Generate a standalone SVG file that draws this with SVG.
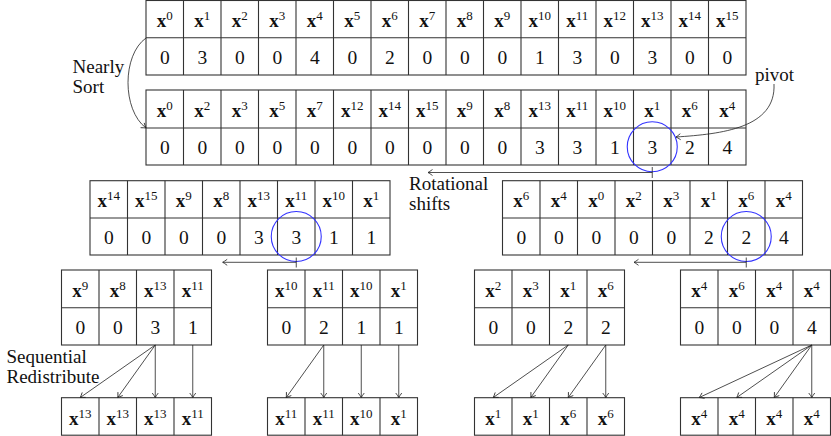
<svg xmlns="http://www.w3.org/2000/svg" width="831" height="436" viewBox="0 0 831 436">
<style>
.tb{fill:#fff;stroke:#333;stroke-width:1.1}
.gl{fill:none;stroke:#333;stroke-width:1.1}
.h{font-family:"Liberation Serif","DejaVu Serif",serif;font-size:19px;font-weight:bold;text-anchor:middle;fill:#111}
.h tspan{font-weight:normal;font-size:13px}
.v{font-family:"Liberation Serif","DejaVu Serif",serif;font-size:19.5px;text-anchor:middle;fill:#111}
.lbl{font-family:"Liberation Serif","DejaVu Serif",serif;font-size:19px;fill:#111}
.cn{fill:none;stroke:#222;stroke-width:0.8}
.ci{fill:none;stroke:#3333ff;stroke-width:1.1}
</style>
<defs>
<marker id="ar" viewBox="-6 -4 7 8" refX="0" refY="0" markerWidth="7" markerHeight="8" markerUnits="userSpaceOnUse" orient="auto">
<path d="M-4.5,-3 Q-1.5,-0.8 0,0 Q-1.5,0.8 -4.5,3" fill="none" stroke="#222" stroke-width="0.8"/>
</marker>
</defs>

<g id="table-original">
<rect class="tb" x="146" y="0.5" width="600" height="74.5"/>
<path class="gl" d="M146,37.7H746M183.5,0.5V75M221,0.5V75M258.5,0.5V75M296,0.5V75M333.5,0.5V75M371,0.5V75M408.5,0.5V75M446,0.5V75M483.5,0.5V75M521,0.5V75M558.5,0.5V75M596,0.5V75M633.5,0.5V75M671,0.5V75M708.5,0.5V75"/>
<text class="h" x="164.75" y="27">x<tspan dy="-7">0</tspan></text>
<text class="h" x="202.25" y="27">x<tspan dy="-7">1</tspan></text>
<text class="h" x="239.75" y="27">x<tspan dy="-7">2</tspan></text>
<text class="h" x="277.25" y="27">x<tspan dy="-7">3</tspan></text>
<text class="h" x="314.75" y="27">x<tspan dy="-7">4</tspan></text>
<text class="h" x="352.25" y="27">x<tspan dy="-7">5</tspan></text>
<text class="h" x="389.75" y="27">x<tspan dy="-7">6</tspan></text>
<text class="h" x="427.25" y="27">x<tspan dy="-7">7</tspan></text>
<text class="h" x="464.75" y="27">x<tspan dy="-7">8</tspan></text>
<text class="h" x="502.25" y="27">x<tspan dy="-7">9</tspan></text>
<text class="h" x="539.75" y="27">x<tspan dy="-7">10</tspan></text>
<text class="h" x="577.25" y="27">x<tspan dy="-7">11</tspan></text>
<text class="h" x="614.75" y="27">x<tspan dy="-7">12</tspan></text>
<text class="h" x="652.25" y="27">x<tspan dy="-7">13</tspan></text>
<text class="h" x="689.75" y="27">x<tspan dy="-7">14</tspan></text>
<text class="h" x="727.25" y="27">x<tspan dy="-7">15</tspan></text>
<text class="v" x="164.75" y="63.7">0</text>
<text class="v" x="202.25" y="63.7">3</text>
<text class="v" x="239.75" y="63.7">0</text>
<text class="v" x="277.25" y="63.7">0</text>
<text class="v" x="314.75" y="63.7">4</text>
<text class="v" x="352.25" y="63.7">0</text>
<text class="v" x="389.75" y="63.7">2</text>
<text class="v" x="427.25" y="63.7">0</text>
<text class="v" x="464.75" y="63.7">0</text>
<text class="v" x="502.25" y="63.7">0</text>
<text class="v" x="539.75" y="63.7">1</text>
<text class="v" x="577.25" y="63.7">3</text>
<text class="v" x="614.75" y="63.7">0</text>
<text class="v" x="652.25" y="63.7">3</text>
<text class="v" x="689.75" y="63.7">0</text>
<text class="v" x="727.25" y="63.7">0</text>
</g>

<g id="table-sorted">
<rect class="tb" x="146" y="90" width="600" height="75"/>
<path class="gl" d="M146,128H746M183.5,90V165M221,90V165M258.5,90V165M296,90V165M333.5,90V165M371,90V165M408.5,90V165M446,90V165M483.5,90V165M521,90V165M558.5,90V165M596,90V165M633.5,90V165M671,90V165M708.5,90V165"/>
<text class="h" x="164.75" y="116.8">x<tspan dy="-7">0</tspan></text>
<text class="h" x="202.25" y="116.8">x<tspan dy="-7">2</tspan></text>
<text class="h" x="239.75" y="116.8">x<tspan dy="-7">3</tspan></text>
<text class="h" x="277.25" y="116.8">x<tspan dy="-7">5</tspan></text>
<text class="h" x="314.75" y="116.8">x<tspan dy="-7">7</tspan></text>
<text class="h" x="352.25" y="116.8">x<tspan dy="-7">12</tspan></text>
<text class="h" x="389.75" y="116.8">x<tspan dy="-7">14</tspan></text>
<text class="h" x="427.25" y="116.8">x<tspan dy="-7">15</tspan></text>
<text class="h" x="464.75" y="116.8">x<tspan dy="-7">9</tspan></text>
<text class="h" x="502.25" y="116.8">x<tspan dy="-7">8</tspan></text>
<text class="h" x="539.75" y="116.8">x<tspan dy="-7">13</tspan></text>
<text class="h" x="577.25" y="116.8">x<tspan dy="-7">11</tspan></text>
<text class="h" x="614.75" y="116.8">x<tspan dy="-7">10</tspan></text>
<text class="h" x="652.25" y="116.8">x<tspan dy="-7">1</tspan></text>
<text class="h" x="689.75" y="116.8">x<tspan dy="-7">6</tspan></text>
<text class="h" x="727.25" y="116.8">x<tspan dy="-7">4</tspan></text>
<text class="v" x="164.75" y="154">0</text>
<text class="v" x="202.25" y="154">0</text>
<text class="v" x="239.75" y="154">0</text>
<text class="v" x="277.25" y="154">0</text>
<text class="v" x="314.75" y="154">0</text>
<text class="v" x="352.25" y="154">0</text>
<text class="v" x="389.75" y="154">0</text>
<text class="v" x="427.25" y="154">0</text>
<text class="v" x="464.75" y="154">0</text>
<text class="v" x="502.25" y="154">0</text>
<text class="v" x="539.75" y="154">3</text>
<text class="v" x="577.25" y="154">3</text>
<text class="v" x="614.75" y="154">1</text>
<text class="v" x="652.25" y="154">3</text>
<text class="v" x="689.75" y="154">2</text>
<text class="v" x="727.25" y="154">4</text>
<circle class="ci" cx="652.25" cy="146.7" r="25"/>
</g>

<g id="table-mid-left">
<rect class="tb" x="90" y="180.7" width="300" height="74.3"/>
<path class="gl" d="M90,218H390M127.5,180.7V255M165,180.7V255M202.5,180.7V255M240,180.7V255M277.5,180.7V255M315,180.7V255M352.5,180.7V255"/>
<text class="h" x="108.75" y="207.3">x<tspan dy="-7">14</tspan></text>
<text class="h" x="146.25" y="207.3">x<tspan dy="-7">15</tspan></text>
<text class="h" x="183.75" y="207.3">x<tspan dy="-7">9</tspan></text>
<text class="h" x="221.25" y="207.3">x<tspan dy="-7">8</tspan></text>
<text class="h" x="258.75" y="207.3">x<tspan dy="-7">13</tspan></text>
<text class="h" x="296.25" y="207.3">x<tspan dy="-7">11</tspan></text>
<text class="h" x="333.75" y="207.3">x<tspan dy="-7">10</tspan></text>
<text class="h" x="371.25" y="207.3">x<tspan dy="-7">1</tspan></text>
<text class="v" x="108.75" y="243.5">0</text>
<text class="v" x="146.25" y="243.5">0</text>
<text class="v" x="183.75" y="243.5">0</text>
<text class="v" x="221.25" y="243.5">0</text>
<text class="v" x="258.75" y="243.5">3</text>
<text class="v" x="296.25" y="243.5">3</text>
<text class="v" x="333.75" y="243.5">1</text>
<text class="v" x="371.25" y="243.5">1</text>
<circle class="ci" cx="296.25" cy="236.5" r="25"/>
</g>

<g id="table-mid-right">
<rect class="tb" x="502.5" y="180.7" width="300" height="74.3"/>
<path class="gl" d="M502.5,218H802.5M540,180.7V255M577.5,180.7V255M615,180.7V255M652.5,180.7V255M690,180.7V255M727.5,180.7V255M765,180.7V255"/>
<text class="h" x="521.25" y="207.3">x<tspan dy="-7">6</tspan></text>
<text class="h" x="558.75" y="207.3">x<tspan dy="-7">4</tspan></text>
<text class="h" x="596.25" y="207.3">x<tspan dy="-7">0</tspan></text>
<text class="h" x="633.75" y="207.3">x<tspan dy="-7">2</tspan></text>
<text class="h" x="671.25" y="207.3">x<tspan dy="-7">3</tspan></text>
<text class="h" x="708.75" y="207.3">x<tspan dy="-7">1</tspan></text>
<text class="h" x="746.25" y="207.3">x<tspan dy="-7">6</tspan></text>
<text class="h" x="783.75" y="207.3">x<tspan dy="-7">4</tspan></text>
<text class="v" x="521.25" y="243.5">0</text>
<text class="v" x="558.75" y="243.5">0</text>
<text class="v" x="596.25" y="243.5">0</text>
<text class="v" x="633.75" y="243.5">0</text>
<text class="v" x="671.25" y="243.5">0</text>
<text class="v" x="708.75" y="243.5">2</text>
<text class="v" x="746.25" y="243.5">2</text>
<text class="v" x="783.75" y="243.5">4</text>
<circle class="ci" cx="746.25" cy="236.5" r="25"/>
</g>

<g id="table-b1">
<rect class="tb" x="61.5" y="270" width="150" height="75"/>
<path class="gl" d="M61.5,307.7H211.5M99,270V345M136.5,270V345M174,270V345"/>
<text class="h" x="80.25" y="296.8">x<tspan dy="-7">9</tspan></text>
<text class="h" x="117.75" y="296.8">x<tspan dy="-7">8</tspan></text>
<text class="h" x="155.25" y="296.8">x<tspan dy="-7">13</tspan></text>
<text class="h" x="192.75" y="296.8">x<tspan dy="-7">11</tspan></text>
<text class="v" x="80.25" y="333.5">0</text>
<text class="v" x="117.75" y="333.5">0</text>
<text class="v" x="155.25" y="333.5">3</text>
<text class="v" x="192.75" y="333.5">1</text>
</g>
<g id="table-b2">
<rect class="tb" x="267.5" y="270" width="150" height="75"/>
<path class="gl" d="M267.5,307.7H417.5M305,270V345M342.5,270V345M380,270V345"/>
<text class="h" x="286.25" y="296.8">x<tspan dy="-7">10</tspan></text>
<text class="h" x="323.75" y="296.8">x<tspan dy="-7">11</tspan></text>
<text class="h" x="361.25" y="296.8">x<tspan dy="-7">10</tspan></text>
<text class="h" x="398.75" y="296.8">x<tspan dy="-7">1</tspan></text>
<text class="v" x="286.25" y="333.5">0</text>
<text class="v" x="323.75" y="333.5">2</text>
<text class="v" x="361.25" y="333.5">1</text>
<text class="v" x="398.75" y="333.5">1</text>
</g>
<g id="table-b3">
<rect class="tb" x="474.5" y="270" width="150" height="75"/>
<path class="gl" d="M474.5,307.7H624.5M512,270V345M549.5,270V345M587,270V345"/>
<text class="h" x="493.25" y="296.8">x<tspan dy="-7">2</tspan></text>
<text class="h" x="530.75" y="296.8">x<tspan dy="-7">3</tspan></text>
<text class="h" x="568.25" y="296.8">x<tspan dy="-7">1</tspan></text>
<text class="h" x="605.75" y="296.8">x<tspan dy="-7">6</tspan></text>
<text class="v" x="493.25" y="333.5">0</text>
<text class="v" x="530.75" y="333.5">0</text>
<text class="v" x="568.25" y="333.5">2</text>
<text class="v" x="605.75" y="333.5">2</text>
</g>
<g id="table-b4">
<rect class="tb" x="680.5" y="270" width="150" height="75"/>
<path class="gl" d="M680.5,307.7H830.5M718,270V345M755.5,270V345M793,270V345"/>
<text class="h" x="699.25" y="296.8">x<tspan dy="-7">4</tspan></text>
<text class="h" x="736.75" y="296.8">x<tspan dy="-7">6</tspan></text>
<text class="h" x="774.25" y="296.8">x<tspan dy="-7">4</tspan></text>
<text class="h" x="811.75" y="296.8">x<tspan dy="-7">4</tspan></text>
<text class="v" x="699.25" y="333.5">0</text>
<text class="v" x="736.75" y="333.5">0</text>
<text class="v" x="774.25" y="333.5">0</text>
<text class="v" x="811.75" y="333.5">4</text>
</g>

<g id="result-b1">
<rect class="tb" x="61.5" y="397.7" width="150" height="37.5"/>
<path class="gl" d="M99,397.7V435.2M136.5,397.7V435.2M174,397.7V435.2"/>
<text class="h" x="80.25" y="424.5">x<tspan dy="-7">13</tspan></text>
<text class="h" x="117.75" y="424.5">x<tspan dy="-7">13</tspan></text>
<text class="h" x="155.25" y="424.5">x<tspan dy="-7">13</tspan></text>
<text class="h" x="192.75" y="424.5">x<tspan dy="-7">11</tspan></text>
</g>
<g id="result-b2">
<rect class="tb" x="267.5" y="397.7" width="150" height="37.5"/>
<path class="gl" d="M305,397.7V435.2M342.5,397.7V435.2M380,397.7V435.2"/>
<text class="h" x="286.25" y="424.5">x<tspan dy="-7">11</tspan></text>
<text class="h" x="323.75" y="424.5">x<tspan dy="-7">11</tspan></text>
<text class="h" x="361.25" y="424.5">x<tspan dy="-7">10</tspan></text>
<text class="h" x="398.75" y="424.5">x<tspan dy="-7">1</tspan></text>
</g>
<g id="result-b3">
<rect class="tb" x="474.5" y="397.7" width="150" height="37.5"/>
<path class="gl" d="M512,397.7V435.2M549.5,397.7V435.2M587,397.7V435.2"/>
<text class="h" x="493.25" y="424.5">x<tspan dy="-7">1</tspan></text>
<text class="h" x="530.75" y="424.5">x<tspan dy="-7">1</tspan></text>
<text class="h" x="568.25" y="424.5">x<tspan dy="-7">6</tspan></text>
<text class="h" x="605.75" y="424.5">x<tspan dy="-7">6</tspan></text>
</g>
<g id="result-b4">
<rect class="tb" x="680.5" y="397.7" width="150" height="37.5"/>
<path class="gl" d="M718,397.7V435.2M755.5,397.7V435.2M793,397.7V435.2"/>
<text class="h" x="699.25" y="424.5">x<tspan dy="-7">4</tspan></text>
<text class="h" x="736.75" y="424.5">x<tspan dy="-7">4</tspan></text>
<text class="h" x="774.25" y="424.5">x<tspan dy="-7">4</tspan></text>
<text class="h" x="811.75" y="424.5">x<tspan dy="-7">4</tspan></text>
</g>

<g id="labels">
<text class="lbl" x="72.5" y="73">Nearly</text>
<text class="lbl" x="72.5" y="93.3">Sort</text>
<text class="lbl" x="755" y="81">pivot</text>
<text class="lbl" x="409" y="190">Rotational</text>
<text class="lbl" x="409" y="210">shifts</text>
<text class="lbl" x="6.5" y="362.7">Sequential</text>
<text class="lbl" x="6.5" y="383">Redistribute</text>
</g>

<g id="connectors">
<path class="cn" d="M146,38 C122,55 122,110 146,128" marker-end="url(#ar)"/>
<path class="cn" d="M774,84 C776,128 722,134 676,137" marker-end="url(#ar)"/>
<path class="cn" d="M652.25,172.5H428" marker-end="url(#ar)"/>
<path class="cn" d="M652.25,167V178"/>
<path class="cn" d="M296.25,262.3H222.7" marker-end="url(#ar)"/>
<path class="cn" d="M296.25,257.5V267.5"/>
<path class="cn" d="M746.25,262.3H634" marker-end="url(#ar)"/>
<path class="cn" d="M746.25,257.5V267.5"/>
<path class="cn" d="M155.25,345L80.25,397.5" marker-end="url(#ar)"/>
<path class="cn" d="M155.25,345L117.75,397.5" marker-end="url(#ar)"/>
<path class="cn" d="M155.25,345L155.25,397.5" marker-end="url(#ar)"/>
<path class="cn" d="M192.75,345L192.75,397.5" marker-end="url(#ar)"/>
<path class="cn" d="M323.75,345L286.25,397.5" marker-end="url(#ar)"/>
<path class="cn" d="M323.75,345L323.75,397.5" marker-end="url(#ar)"/>
<path class="cn" d="M361.25,345L361.25,397.5" marker-end="url(#ar)"/>
<path class="cn" d="M398.75,345L398.75,397.5" marker-end="url(#ar)"/>
<path class="cn" d="M568.25,345L493.25,397.5" marker-end="url(#ar)"/>
<path class="cn" d="M568.25,345L530.75,397.5" marker-end="url(#ar)"/>
<path class="cn" d="M605.75,345L568.25,397.5" marker-end="url(#ar)"/>
<path class="cn" d="M605.75,345L605.75,397.5" marker-end="url(#ar)"/>
<path class="cn" d="M811.75,345L699.25,397.5" marker-end="url(#ar)"/>
<path class="cn" d="M811.75,345L736.75,397.5" marker-end="url(#ar)"/>
<path class="cn" d="M811.75,345L774.25,397.5" marker-end="url(#ar)"/>
<path class="cn" d="M811.75,345L811.75,397.5" marker-end="url(#ar)"/>
</g>
</svg>
